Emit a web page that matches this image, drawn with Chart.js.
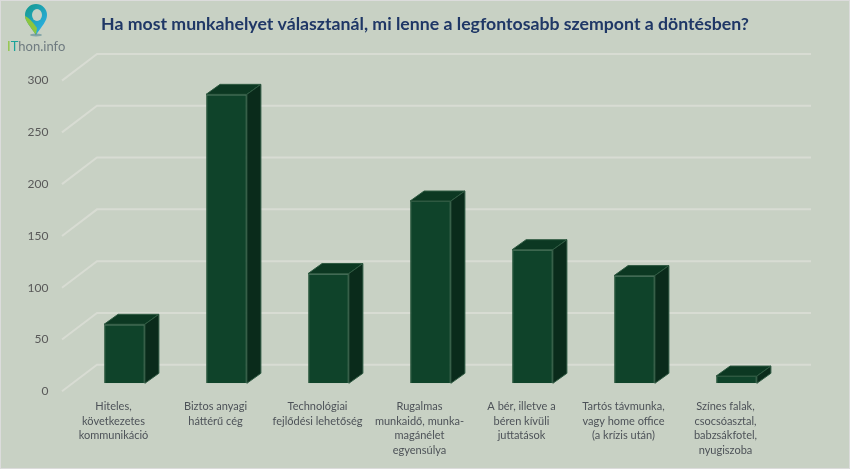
<!DOCTYPE html>
<html>
<head>
<meta charset="utf-8">
<script src="https://cdn.jsdelivr.net/npm/chart.js@4"></script>
<style>
  body { margin: 0; background: #c8d1c4; }
  canvas { display: block; }
</style>
</head>
<body>
<canvas id="chart" width="850" height="469"></canvas>
<script>
// data
const categories = [
  ["Hiteles,", "következetes", "kommunikáció"],
  ["Biztos anyagi", "háttérű cég"],
  ["Technológiai", "fejlődési lehetőség"],
  ["Rugalmas", "munkaidő, munka-", "magánélet", "egyensúlya"],
  ["A bér, illetve a", "béren kívüli", "juttatások"],
  ["Tartós távmunka,", "vagy home office", "(a krízis után)"],
  ["Színes falak,", "csocsóasztal,", "babzsákfotel,", "nyugiszoba"]
];
const votes = [57, 279, 106, 176, 129, 104, 7];
const yTicks = [0, 50, 100, 150, 200, 250, 300];

const titleText = "Ha most munkahelyet választanál, mi lenne a legfontosabb szempont a döntésben?";

// --- 3D look settings ---
const wallDx = 35, wallDy = 26.6;   // floor/wall depth
const frontDx = 11.5, frontDy = 8;  // bar plane -> front edge
const barDx = 14, barDy = 10;       // bar depth

const bgPlugin = {
  id: "bg",
  beforeDraw(chart) {
    const c = chart.ctx;
    c.save();
    c.fillStyle = "#c8d1c4";
    c.fillRect(0, 0, chart.width, chart.height);
    c.strokeStyle = "#dcdcdc";
    c.lineWidth = 1;
    c.strokeRect(0.5, 0.5, chart.width - 1, chart.height - 1);

    // title, centred on the whole picture
    c.font = "bold 17.7px Lato";
    c.fillStyle = "#1f3766";
    c.textAlign = "center";
    c.textBaseline = "middle";
    c.fillText(titleText, chart.width / 2, 24);

    // logo pin
    const px = 36, py = 16;
    const g = c.createLinearGradient(px - 10, py - 10, px + 10, py + 10);
    g.addColorStop(0, "#159a8f");
    g.addColorStop(1, "#2aaee2");
    c.beginPath();
    c.moveTo(px, py + 19);
    c.bezierCurveTo(px - 6, py + 10, px - 11, py + 5, px - 11, py - 1);
    c.arc(px, py - 1, 11, Math.PI, 0);
    c.bezierCurveTo(px + 11, py + 5, px + 6, py + 10, px, py + 19);
    c.fillStyle = g;
    c.fill();
    c.beginPath();
    c.moveTo(px - 11, py);
    c.quadraticCurveTo(px - 6, py + 2, px + 1, py + 12);
    c.lineTo(px, py + 19);
    c.bezierCurveTo(px - 6, py + 10, px - 11, py + 5, px - 11, py);
    c.fillStyle = "#8dc63f";
    c.fill();
    c.beginPath();
    c.ellipse(px + 1, py - 1, 5, 6, 0, 0, Math.PI * 2);
    c.fillStyle = "#c8d1c4";
    c.fill();
    c.beginPath();
    c.ellipse(px, py + 19, 6, 1.5, 0, 0, Math.PI * 2);
    c.fillStyle = "rgba(60,120,140,0.5)";
    c.fill();

    // logo text
    c.font = "13px Lato";
    c.textBaseline = "middle";
    c.textAlign = "left";
    let x = 7;
    c.fillStyle = "#8dc63f"; c.fillText("I", x, 47); x += c.measureText("I").width;
    c.fillStyle = "#1aa39a"; c.fillText("T", x, 47); x += c.measureText("T").width;
    c.fillStyle = "#6f7b80"; c.fillText("hon.info", x, 47);
    c.restore();
  }
};

const wallPlugin = {
  id: "wall",
  beforeDatasetsDraw(chart) {
    const c = chart.ctx;
    const y = chart.scales.y;
    const area = chart.chartArea;
    c.save();
    c.strokeStyle = "#d8dcd3";
    c.lineWidth = 2;
    yTicks.forEach(v => {
      const py = y.getPixelForValue(v);
      const x0 = area.left - frontDx, y0 = py + frontDy;
      const x1 = x0 + wallDx, y1 = y0 - wallDy;
      c.beginPath();
      c.moveTo(x0, y0);
      c.lineTo(x1, y1);
      c.lineTo(area.right + wallDx - frontDx, y1);
      c.stroke();
    });
    c.restore();
  }
};

const barPlugin = {
  id: "bars3d",
  afterDatasetsDraw(chart) {
    const c = chart.ctx;
    const meta = chart.getDatasetMeta(0);
    c.save();
    c.lineWidth = 1;
    c.strokeStyle = "#2f5a42";
    meta.data.forEach(bar => {
      const l = bar.x - bar.width / 2, r = bar.x + bar.width / 2;
      const t = bar.y, b = bar.base;
      // top
      c.beginPath();
      c.moveTo(l, t);
      c.lineTo(l + barDx, t - barDy);
      c.lineTo(r + barDx, t - barDy);
      c.lineTo(r, t);
      c.closePath();
      c.fillStyle = "#0c3822";
      c.fill();
      c.stroke();
      // side
      c.beginPath();
      c.moveTo(r, t);
      c.lineTo(r + barDx, t - barDy);
      c.lineTo(r + barDx, b - barDy);
      c.lineTo(r, b);
      c.closePath();
      c.fillStyle = "#0a2b1b";
      c.fill();
      c.stroke();
    });
    c.restore();
  }
};

new Chart(document.getElementById("chart"), {
  type: "bar",
  data: {
    labels: categories,
    datasets: [{
      data: votes,
      backgroundColor: "#0f432a",
      borderColor: "#2f5a42",
      borderWidth: 1,
      barPercentage: 0.4,
      categoryPercentage: 1
    }]
  },
  options: {
    responsive: false,
    animation: false,
    layout: { padding: { left: 0, right: 62.5, top: 72.6, bottom: 0 } },
    plugins: {
      legend: { display: false },
      tooltip: { enabled: false },
      title: { display: false }
    },
    scales: {
      y: {
        min: 0,
        max: 300,
        afterFit(scale) { scale.width = 73.5; },
        afterBuildTicks(scale) { scale.ticks = yTicks.map(v => ({ value: v })); },
        grid: { display: false, drawTicks: false },
        border: { display: false },
        ticks: {
          padding: 25,
          labelOffset: 8,
          color: "#595959",
          font: { family: "Lato", size: 12 }
        }
      },
      x: {
        afterFit(scale) { scale.height = 85.7; },
        grid: { display: false, drawTicks: false },
        border: { display: false },
        ticks: {
          padding: 16,
          labelOffset: -11,
          maxRotation: 0,
          autoSkip: false,
          color: "#4d5258",
          font: { family: "Lato", size: 11, lineHeight: 1.33 }
        }
      }
    }
  },
  plugins: [bgPlugin, wallPlugin, barPlugin]
});
</script>
</body>
</html>
